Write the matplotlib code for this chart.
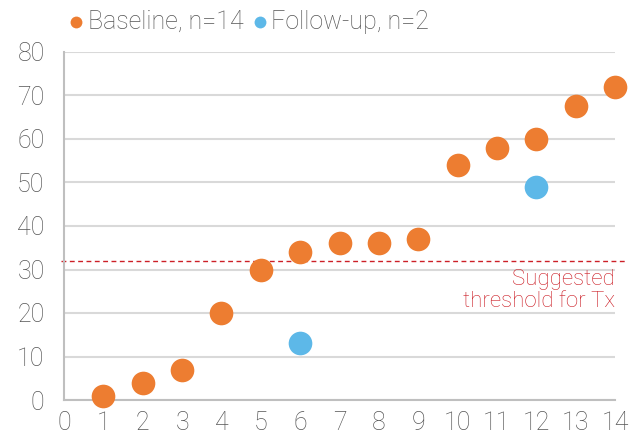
import matplotlib
matplotlib.use("Agg")
import matplotlib.pyplot as plt

# baseline measurements
base_x = [1, 2, 3, 4, 5, 6, 7, 8, 9, 10, 11, 12, 13, 14]
base_y = [1, 4, 7, 20, 30, 34, 36, 36, 37, 54, 58, 60, 67.5, 72]
# follow-up measurements
follow_x = [6, 12]
follow_y = [13, 49]
threshold = 32

ORANGE = "#ED7D31"
BLUE = "#5DB8E8"
RED = "#CC1F27"
GREY = "#555555"

plt.rcParams["font.family"] = ["Roboto", "DejaVu Sans"]
plt.rcParams["font.weight"] = "light"

fig = plt.figure(figsize=(6.37, 4.41), dpi=100)
ax = fig.add_axes([64 / 637, 41 / 441, 551 / 637, 348 / 441])

ax.scatter(base_x, base_y, s=290, color=ORANGE, zorder=3, clip_on=False,
           linewidths=0, label="Baseline, n=14")
ax.scatter(follow_x, follow_y, s=290, color=BLUE, zorder=3, clip_on=False,
           linewidths=0, label="Follow-up, n=2")

ax.axhline(threshold, color=RED, lw=1, ls=(0, (3.5, 2.5)), zorder=2,
           xmin=-0.005, xmax=1.02, clip_on=False)
ax.text(14, threshold - 2.0, "Suggested\nthreshold for Tx", ha="right",
        va="top", color=RED, fontsize=16, linespacing=1.05)

ax.set_xlim(0, 14)
ax.set_ylim(0, 80)
ax.set_xticks(range(0, 15))
ax.set_yticks(range(0, 81, 10))
ax.yaxis.grid(True, color="#D9D9D9", lw=1.5, zorder=0)
ax.set_axisbelow(True)
ax.tick_params(length=0, labelsize=18, colors=GREY)
ax.tick_params(axis="x", pad=8)
ax.tick_params(axis="y", pad=14)
for side in ("top", "right"):
    ax.spines[side].set_visible(False)
for side in ("left", "bottom"):
    ax.spines[side].set_color("#BFBFBF")
    ax.spines[side].set_linewidth(1.5)

handles, labels = ax.get_legend_handles_labels()
leg = fig.legend(handles, labels, loc="center left",
                 bbox_to_anchor=(70 / 637, 1 - 22 / 441), ncol=2,
                 frameon=False, fontsize=18, markerscale=0.5,
                 handlelength=0.5, handletextpad=0.2, columnspacing=0.4,
                 borderaxespad=0.0, borderpad=0.0)
for t in leg.get_texts():
    t.set_color(GREY)

fig.savefig("out.png", dpi=100)
